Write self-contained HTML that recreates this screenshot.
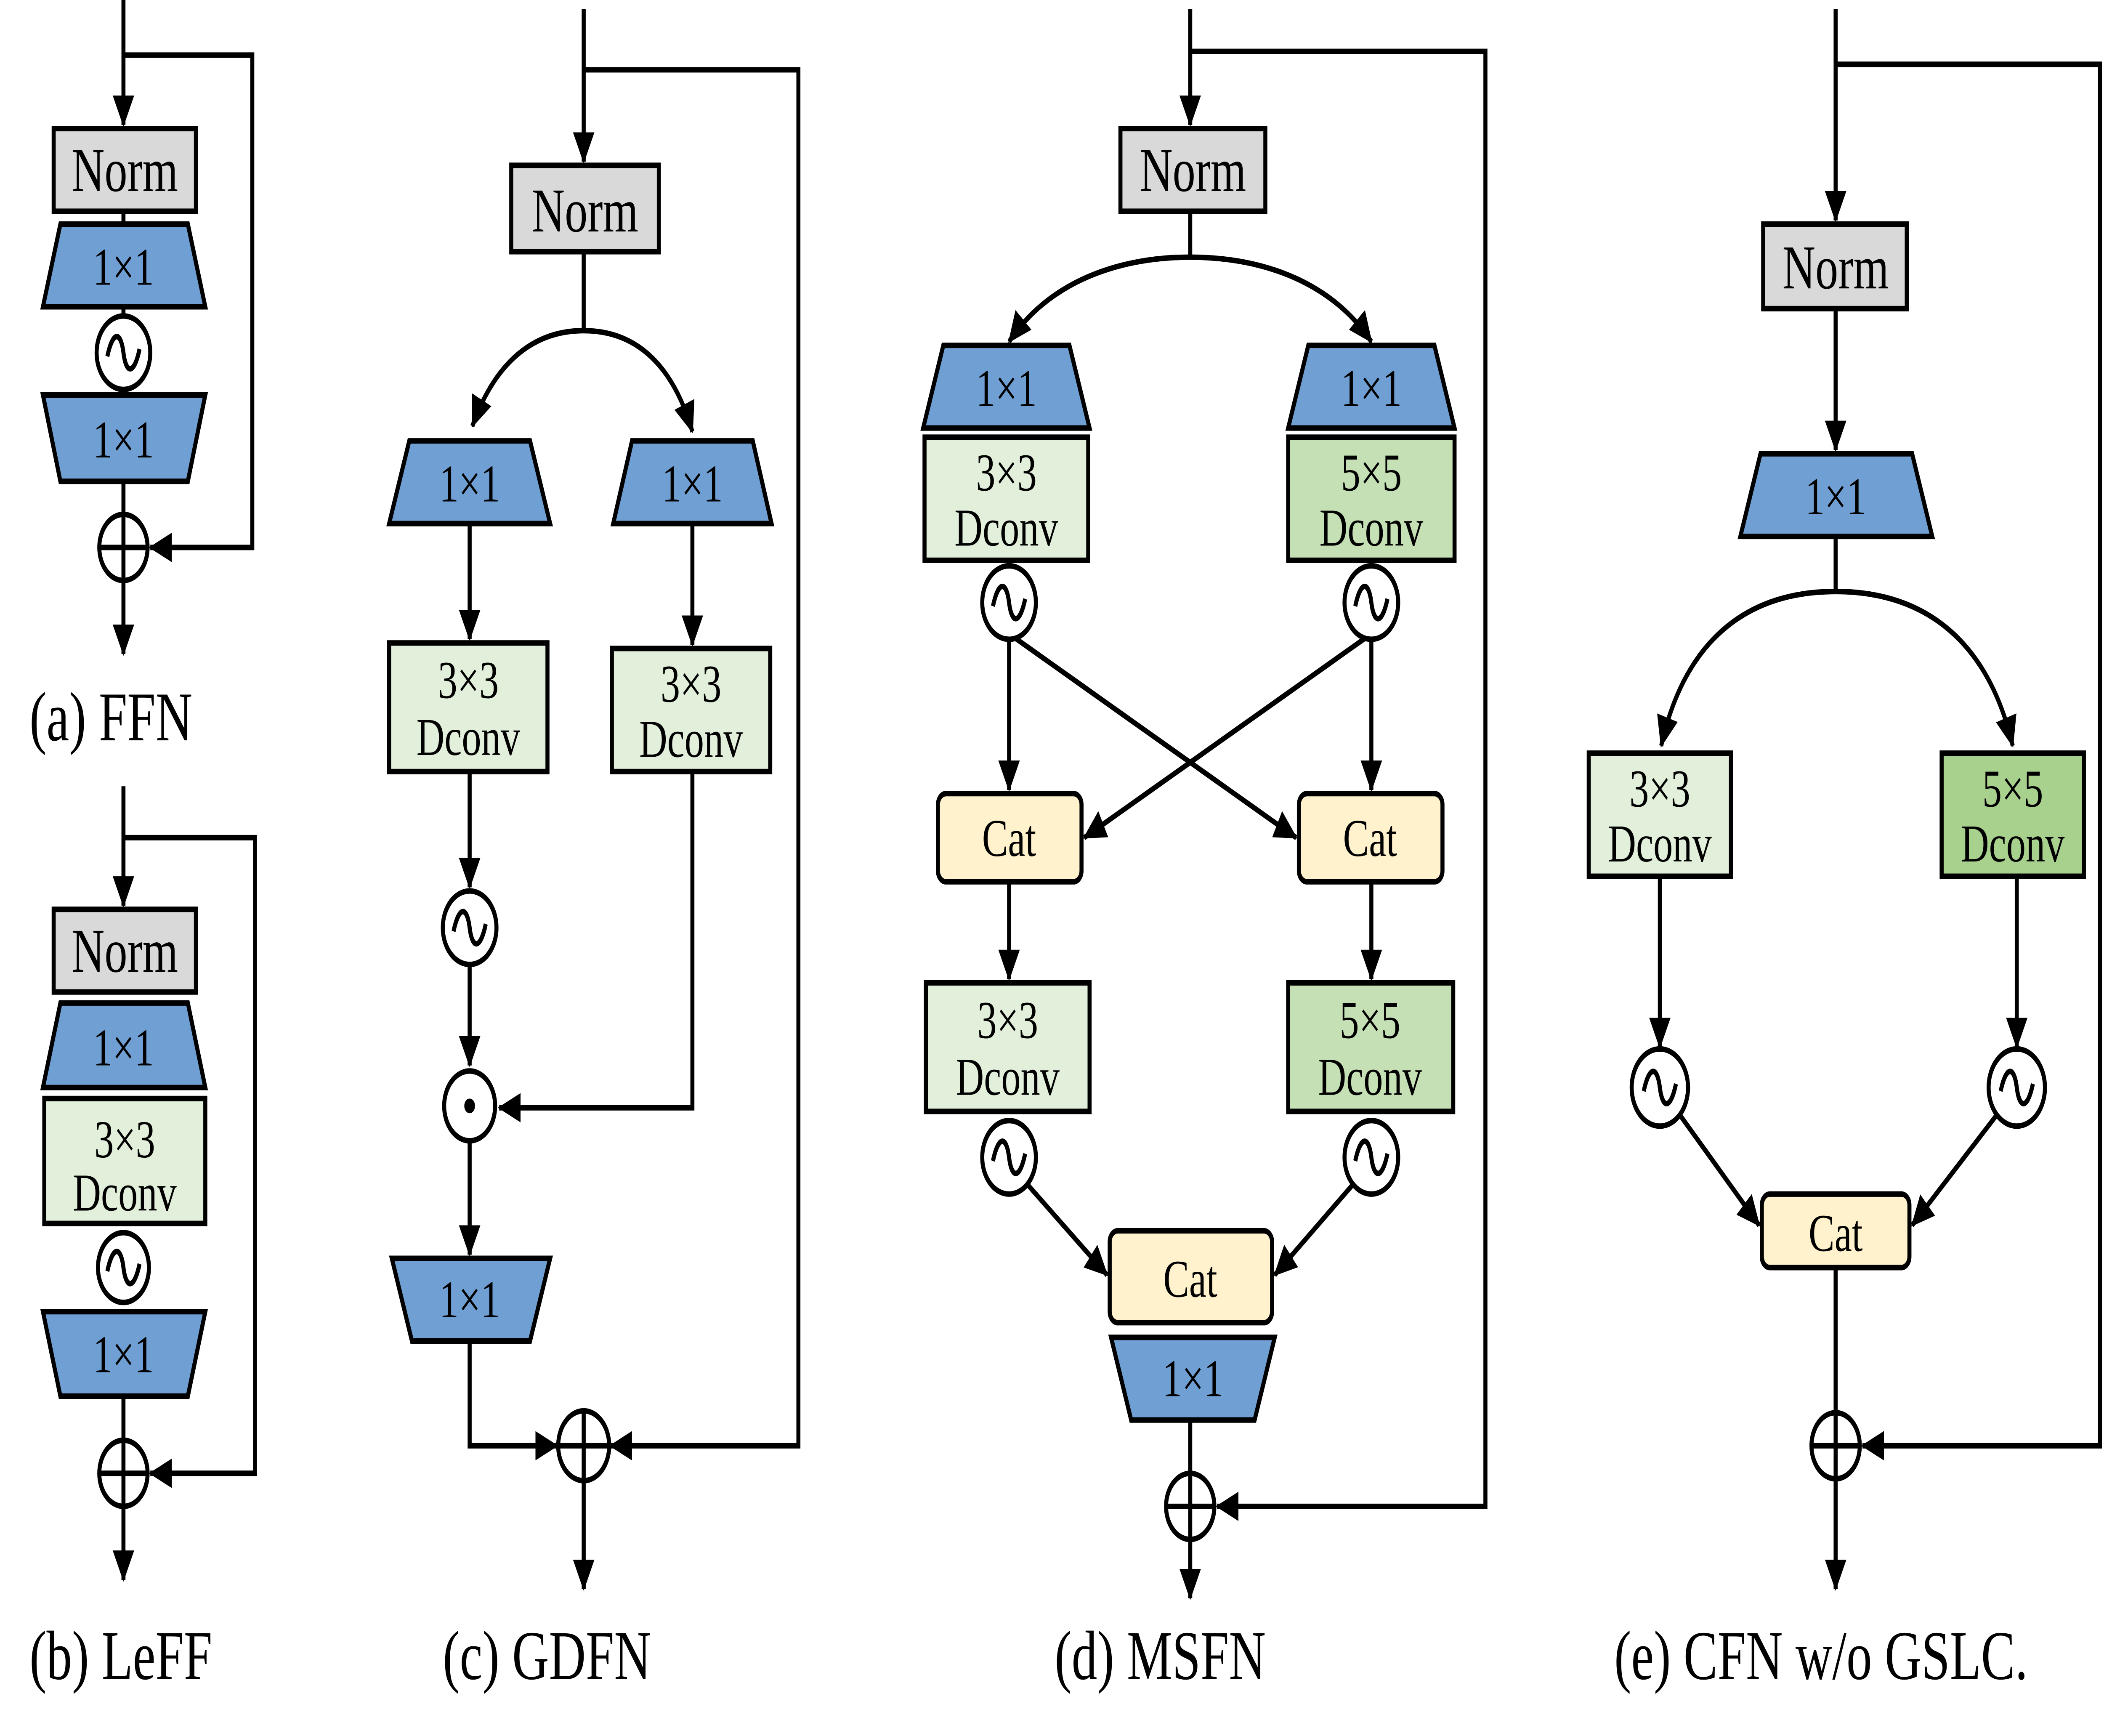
<!DOCTYPE html>
<html><head><meta charset="utf-8"><style>
html,body{margin:0;padding:0;background:#fff;width:100vw;height:100vh;overflow:hidden}
svg{display:block;width:100vw;height:100vh;position:absolute;left:0;top:0}
text{font-family:"Liberation Serif",serif;fill:#000}
</style></head><body>
<svg viewBox="0 0 1568 945" preserveAspectRatio="none" xmlns="http://www.w3.org/2000/svg">
<defs>
<marker id="a" markerUnits="userSpaceOnUse" markerWidth="18" markerHeight="18" refX="16" refY="8" orient="auto"><path d="M0,0 L17,8 L0,16 Z" fill="#000"/></marker>
</defs>
<g stroke="#000" stroke-width="3" fill="none">
<path d="M92,0 V68" marker-end="url(#a)"/>
<path d="M92,30 H188 V298 H112" marker-end="url(#a)"/>
<path d="M92,115 V122 M92,167 V172 M92,212 V215 M92,262 V280"/>
<path d="M92,316 V356" marker-end="url(#a)"/>
<path d="M92,428 V493" marker-end="url(#a)"/>
<path d="M92,456 H190 V802 H112" marker-end="url(#a)"/>
<path d="M92,760 V784"/>
<path d="M92,820 V860" marker-end="url(#a)"/>
<path d="M435,5 V88" marker-end="url(#a)"/>
<path d="M435,38 H595 V787 H455" marker-end="url(#a)"/>
<path d="M435,137 V180"/>
<path d="M435,180 C400,180 370,195 352,232" marker-end="url(#a)"/>
<path d="M435,180 C470,180 500,195 516,235" marker-end="url(#a)"/>
<path d="M350,285 V348" marker-end="url(#a)"/>
<path d="M516,285 V351" marker-end="url(#a)"/>
<path d="M350,420 V483" marker-end="url(#a)"/>
<path d="M350,525 V580" marker-end="url(#a)"/>
<path d="M516,420 V603 H372" marker-end="url(#a)"/>
<path d="M350,622 V683" marker-end="url(#a)"/>
<path d="M350,730 V787 H415" marker-end="url(#a)"/>
<path d="M435,805 V865" marker-end="url(#a)"/>
<path d="M887,5 V68" marker-end="url(#a)"/>
<path d="M887,28 H1107 V820 H907" marker-end="url(#a)"/>
<path d="M887,115 V140"/>
<path d="M887,140 C830,140 780,155 752,186" marker-end="url(#a)"/>
<path d="M887,140 C944,140 994,155 1022,186" marker-end="url(#a)"/>
<path d="M752,348 V430" marker-end="url(#a)"/>
<path d="M1022,348 V430" marker-end="url(#a)"/>
<path d="M752,345 L966,456" marker-end="url(#a)"/>
<path d="M1022,345 L808,456" marker-end="url(#a)"/>
<path d="M752,480 V533" marker-end="url(#a)"/>
<path d="M1022,480 V533" marker-end="url(#a)"/>
<path d="M766,645 L825,694" marker-end="url(#a)"/>
<path d="M1008,645 L950,694" marker-end="url(#a)"/>
<path d="M887,773 V802"/>
<path d="M887,838 V870" marker-end="url(#a)"/>
<path d="M1368,5 V120" marker-end="url(#a)"/>
<path d="M1368,35 H1565 V787 H1388" marker-end="url(#a)"/>
<path d="M1368,168 V245" marker-end="url(#a)"/>
<path d="M1368,292 V322"/>
<path d="M1368,322 C1300,322 1255,350 1238,406" marker-end="url(#a)"/>
<path d="M1368,322 C1436,322 1482,350 1500,406" marker-end="url(#a)"/>
<path d="M1237,477 V570" marker-end="url(#a)"/>
<path d="M1503,477 V570" marker-end="url(#a)"/>
<path d="M1252,607 L1311,667" marker-end="url(#a)"/>
<path d="M1488,607 L1425,667" marker-end="url(#a)"/>
<path d="M1368,690 V769"/>
<path d="M1368,805 V865" marker-end="url(#a)"/>
</g>

<g stroke="#000" stroke-width="3">
<rect x="40" y="70" width="106" height="45" fill="#d9d9d9"/>
<rect x="40" y="495" width="106" height="45" fill="#d9d9d9"/>
<rect x="381" y="90" width="110" height="47" fill="#d9d9d9"/>
<rect x="835" y="70" width="108" height="45" fill="#d9d9d9"/>
<rect x="1314" y="122" width="107" height="46" fill="#d9d9d9"/>
<g fill="#6f9fd3">
<polygon points="45,122 140,122 153,167 32,167"/>
<polygon points="45,546 140,546 153,592 32,592"/>
<polygon points="305,240 395,240 410,285 290,285"/>
<polygon points="471,240 561,240 575,285 457,285"/>
<polygon points="703,188 797,188 812,233 688,233"/>
<polygon points="975,188 1069,188 1084,233 960,233"/>
<polygon points="1312,247 1425,247 1440,292 1297,292"/>
<polygon points="32,215 153,215 140,262 45,262"/>
<polygon points="32,714 153,714 140,760 45,760"/>
<polygon points="292,685 410,685 395,730 307,730"/>
<polygon points="828,728 950,728 935,773 843,773"/>
</g>
<rect x="33" y="598" width="120" height="68" fill="#e2efda"/>
<rect x="290" y="350" width="118" height="70" fill="#e2efda"/>
<rect x="456" y="353" width="118" height="67" fill="#e2efda"/>
<rect x="689" y="238" width="122" height="67" fill="#e2efda"/>
<rect x="960" y="238" width="124" height="67" fill="#c5e0b4"/>
<rect x="690" y="535" width="122" height="70" fill="#e2efda"/>
<rect x="960" y="535" width="123" height="70" fill="#c5e0b4"/>
<rect x="1184" y="410" width="106" height="67" fill="#e2efda"/>
<rect x="1447" y="410" width="106" height="67" fill="#a9d18e"/>
<rect x="699" y="432" width="107" height="48" rx="6" fill="#fff2cc"/>
<rect x="968" y="432" width="107" height="48" rx="6" fill="#fff2cc"/>
<rect x="827" y="670" width="121" height="50" rx="6" fill="#fff2cc"/>
<rect x="1313" y="650" width="110" height="40" rx="6" fill="#fff2cc"/>
<g fill="#fff">
<circle cx="92" cy="192" r="20"/><circle cx="92" cy="690" r="19"/>
<circle cx="350" cy="505" r="20"/><circle cx="752" cy="328" r="20"/>
<circle cx="1022" cy="328" r="20"/><circle cx="752" cy="630" r="20"/>
<circle cx="1022" cy="630" r="20"/><circle cx="1237" cy="592" r="21"/>
<circle cx="1503" cy="592" r="21"/>
<circle cx="92" cy="298" r="18"/><circle cx="92" cy="802" r="18"/>
<circle cx="435" cy="787" r="19"/><circle cx="887" cy="820" r="18"/>
<circle cx="1368" cy="787" r="18"/>
<circle cx="350" cy="602" r="19"/>
</g>
</g>
<g stroke="#000" stroke-width="3" fill="none">
<path d="M80,194 c4,-14 10,-14 12,-2 s8,12 12,-2"/>
<path d="M80,692 c4,-14 10,-14 12,-2 s8,12 12,-2"/>
<path d="M338,507 c4,-14 10,-14 12,-2 s8,12 12,-2"/>
<path d="M740,330 c4,-14 10,-14 12,-2 s8,12 12,-2"/>
<path d="M1010,330 c4,-14 10,-14 12,-2 s8,12 12,-2"/>
<path d="M740,632 c4,-14 10,-14 12,-2 s8,12 12,-2"/>
<path d="M1010,632 c4,-14 10,-14 12,-2 s8,12 12,-2"/>
<path d="M1225,594 c4,-14 10,-14 12,-2 s8,12 12,-2"/>
<path d="M1491,594 c4,-14 10,-14 12,-2 s8,12 12,-2"/>
<path d="M74,298 H110 M92,280 V316"/>
<path d="M74,802 H110 M92,784 V820"/>
<path d="M416,787 H454 M435,768 V806"/>
<path d="M869,820 H905 M887,802 V838"/>
<path d="M1350,787 H1386 M1368,769 V805"/>
</g>
<circle cx="350" cy="602" r="4" fill="#000"/>

<g font-size="34" text-anchor="middle">
<text x="93" y="104">Norm</text><text x="93" y="529">Norm</text>
<text x="436" y="126">Norm</text><text x="889" y="104">Norm</text>
<text x="1368" y="157">Norm</text>
</g>
<g font-size="29" text-anchor="middle">
<text x="92" y="155">1×1</text><text x="92" y="249">1×1</text>
<text x="92" y="580">1×1</text><text x="92" y="747">1×1</text>
<text x="350" y="273">1×1</text><text x="516" y="273">1×1</text>
<text x="350" y="717">1×1</text>
<text x="750" y="221">1×1</text><text x="1022" y="221">1×1</text>
<text x="889" y="760">1×1</text><text x="1368" y="280">1×1</text>
<text x="93" y="630">3×3</text><text x="93" y="659">Dconv</text>
<text x="349" y="380">3×3</text><text x="349" y="411">Dconv</text>
<text x="515" y="382">3×3</text><text x="515" y="412">Dconv</text>
<text x="750" y="267">3×3</text><text x="750" y="297">Dconv</text>
<text x="1022" y="267">5×5</text><text x="1022" y="297">Dconv</text>
<text x="751" y="565">3×3</text><text x="751" y="596">Dconv</text>
<text x="1021" y="565">5×5</text><text x="1021" y="596">Dconv</text>
<text x="1237" y="439">3×3</text><text x="1237" y="469">Dconv</text>
<text x="1500" y="439">5×5</text><text x="1500" y="469">Dconv</text>
<text x="752" y="466">Cat</text><text x="1021" y="466">Cat</text>
<text x="887" y="706">Cat</text><text x="1368" y="681">Cat</text>
</g>
<g font-size="38">
<text x="22" y="403">(a) FFN</text>
<text x="22" y="914">(b) LeFF</text>
<text x="330" y="914">(c) GDFN</text>
<text x="786" y="914">(d) MSFN</text>
<text x="1203" y="914">(e) CFN w/o GSLC.</text>
</g>
</svg>
</body></html>
